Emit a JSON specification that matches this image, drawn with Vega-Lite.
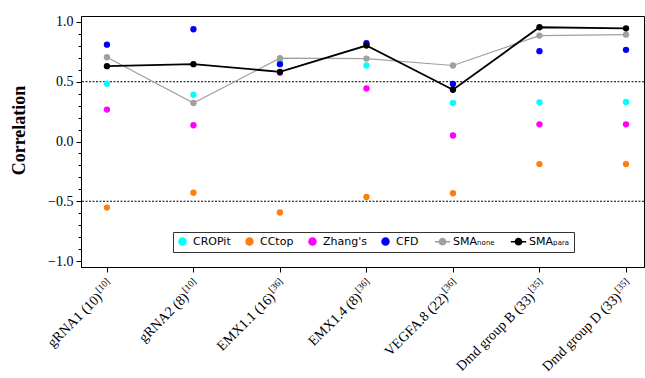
{
  "$schema": "https://vega.github.io/schema/vega-lite/v6.json",
  "width": 563,
  "height": 251,
  "autosize": "none",
  "padding": {"left": 81, "top": 16, "right": 1, "bottom": 111},
  "background": "white",
  "config": {
    "view": {"stroke": "black", "strokeWidth": 1},
    "axisX": {"labels": false, "tickSize": 5, "tickColor": "black", "domainColor": "black", "grid": false, "tickWidth": 1},
    "axisY": {"grid": false},
    "legend": {"orient": "none", "legendX": 92, "legendY": 216, "direction": "horizontal", "columns": 6, "title": null,
      "labelFont": "DejaVu Sans", "labelFontSize": 11, "labelColor": "black", "symbolSize": 49, "labelOffset": 5, "columnPadding": 12,
      "padding": 4, "strokeColor": "#333333", "cornerRadius": 0, "fillColor": "white", "symbolStrokeWidth": 1.5}
  },
  "datasets": {
    "scores": [
      {"target": "gRNA1 (10)", "method": "CROPit", "value": 0.483},
      {"target": "gRNA2 (8)", "method": "CROPit", "value": 0.392},
      {"target": "EMX1.1 (16)", "method": "CROPit", "value": 0.68},
      {"target": "EMX1.4 (8)", "method": "CROPit", "value": 0.636},
      {"target": "VEGFA.8 (22)", "method": "CROPit", "value": 0.322},
      {"target": "Dmd group B (33)", "method": "CROPit", "value": 0.328},
      {"target": "Dmd group D (33)", "method": "CROPit", "value": 0.331},
      {"target": "gRNA1 (10)", "method": "CCtop", "value": -0.553},
      {"target": "gRNA2 (8)", "method": "CCtop", "value": -0.428},
      {"target": "EMX1.1 (16)", "method": "CCtop", "value": -0.594},
      {"target": "EMX1.4 (8)", "method": "CCtop", "value": -0.464},
      {"target": "VEGFA.8 (22)", "method": "CCtop", "value": -0.433},
      {"target": "Dmd group B (33)", "method": "CCtop", "value": -0.189},
      {"target": "Dmd group D (33)", "method": "CCtop", "value": -0.189},
      {"target": "gRNA1 (10)", "method": "Zhang's", "value": 0.267},
      {"target": "gRNA2 (8)", "method": "Zhang's", "value": 0.136},
      {"target": "EMX1.1 (16)", "method": "Zhang's", "value": 0.575},
      {"target": "EMX1.4 (8)", "method": "Zhang's", "value": 0.444},
      {"target": "VEGFA.8 (22)", "method": "Zhang's", "value": 0.05},
      {"target": "Dmd group B (33)", "method": "Zhang's", "value": 0.144},
      {"target": "Dmd group D (33)", "method": "Zhang's", "value": 0.144},
      {"target": "gRNA1 (10)", "method": "CFD", "value": 0.81},
      {"target": "gRNA2 (8)", "method": "CFD", "value": 0.939},
      {"target": "EMX1.1 (16)", "method": "CFD", "value": 0.647},
      {"target": "EMX1.4 (8)", "method": "CFD", "value": 0.822},
      {"target": "VEGFA.8 (22)", "method": "CFD", "value": 0.481},
      {"target": "Dmd group B (33)", "method": "CFD", "value": 0.756},
      {"target": "Dmd group D (33)", "method": "CFD", "value": 0.767},
      {"target": "gRNA1 (10)", "method": "SMAₙₒₙₑ", "value": 0.705},
      {"target": "gRNA2 (8)", "method": "SMAₙₒₙₑ", "value": 0.322},
      {"target": "EMX1.1 (16)", "method": "SMAₙₒₙₑ", "value": 0.697},
      {"target": "EMX1.4 (8)", "method": "SMAₙₒₙₑ", "value": 0.694},
      {"target": "VEGFA.8 (22)", "method": "SMAₙₒₙₑ", "value": 0.636},
      {"target": "Dmd group B (33)", "method": "SMAₙₒₙₑ", "value": 0.886},
      {"target": "Dmd group D (33)", "method": "SMAₙₒₙₑ", "value": 0.894},
      {"target": "gRNA1 (10)", "method": "SMAₚₐᵣₐ", "value": 0.63},
      {"target": "gRNA2 (8)", "method": "SMAₚₐᵣₐ", "value": 0.647},
      {"target": "EMX1.1 (16)", "method": "SMAₚₐᵣₐ", "value": 0.583},
      {"target": "EMX1.4 (8)", "method": "SMAₚₐᵣₐ", "value": 0.803},
      {"target": "VEGFA.8 (22)", "method": "SMAₚₐᵣₐ", "value": 0.433},
      {"target": "Dmd group B (33)", "method": "SMAₚₐᵣₐ", "value": 0.956},
      {"target": "Dmd group D (33)", "method": "SMAₚₐᵣₐ", "value": 0.947}
    ],
    "labels": [
      {"target": "gRNA1 (10)", "sup": "[10]"},
      {"target": "gRNA2 (8)", "sup": "[10]"},
      {"target": "EMX1.1 (16)", "sup": "[36]"},
      {"target": "EMX1.4 (8)", "sup": "[36]"},
      {"target": "VEGFA.8 (22)", "sup": "[36]"},
      {"target": "Dmd group B (33)", "sup": "[35]"},
      {"target": "Dmd group D (33)", "sup": "[35]"}
    ],
    "refs": [{"y": 0.5}, {"y": -0.5}]
  },
  "resolve": {"axis": {"y": "independent"}},
  "layer": [
    {
      "data": {"name": "refs"},
      "mark": {"type": "rule", "color": "black", "strokeWidth": 1, "strokeDash": [2, 1.5]},
      "encoding": {
        "y": {"field": "y", "type": "quantitative",
          "scale": {"domain": [-1.05, 1.05], "nice": false, "zero": false},
          "axis": {"orient": "left", "values": [-1, -0.9, -0.8, -0.7, -0.6, -0.5, -0.4, -0.3, -0.2, -0.1, 0, 0.1, 0.2, 0.3, 0.4, 0.5, 0.6, 0.7, 0.8, 0.9, 1],
            "labels": false, "tickSize": 3, "tickColor": "black", "domain": false, "grid": false,
            "title": "Correlation", "titleFont": "Liberation Serif", "titleFontSize": 18, "titleFontWeight": "bold", "titleColor": "black",
            "titleX": -62, "titleY": 114, "titleBaseline": "middle", "titleAngle": -90, "titleAlign": "center", "titleLimit": 300}}
      }
    },
    {
      "data": {"name": "scores"},
      "transform": [{"filter": "indexof(['CROPit','CCtop','Zhang\\'s','CFD'], datum.method) >= 0"}],
      "mark": {"type": "point", "filled": true, "opacity": 1, "size": 40, "shape": "circle"},
      "encoding": {
        "x": {"field": "target", "type": "nominal", "title": null,
          "scale": {"type": "point", "domain": ["gRNA1 (10)", "gRNA2 (8)", "EMX1.1 (16)", "EMX1.4 (8)", "VEGFA.8 (22)", "Dmd group B (33)", "Dmd group D (33)"], "padding": 0.254, "align": 0.59}},
        "y": {"field": "value", "type": "quantitative",
          "axis": {"orient": "left", "values": [-1, -0.5, 0, 0.5, 1], "format": ".1f", "tickSize": 5, "tickColor": "black", "domainColor": "black",
            "labelFont": "Liberation Serif", "labelFontSize": 14, "labelColor": "black", "labelPadding": 3,
            "title": null, "grid": false}},
        "color": {"field": "method", "type": "nominal",
          "scale": {"domain": ["CROPit", "CCtop", "Zhang's", "CFD", "SMAₙₒₙₑ", "SMAₚₐᵣₐ"], "range": ["#00ffff", "#ff7f0e", "#ff00ff", "#0000ff", "#a0a0a0", "#000000"]},
          "legend": {
            "encode": {"symbols": {"update": {
              "shape": {"signal": "indexof(datum.label, 'SMA') === 0 ? 'M-2.2,0H2.2M0.9,0A0.9,0.9,0,1,1,-0.9,0A0.9,0.9,0,1,1,0.9,0Z' : 'circle'"},
              "fill": {"signal": "scale('color', datum.value)"},
              "stroke": {"signal": "scale('color', datum.value)"},
              "opacity": {"value": 1}
            }}}}}
      }
    },
    {
      "data": {"name": "scores"},
      "transform": [{"filter": "datum.method === 'SMAₙₒₙₑ'"}],
      "mark": {"type": "line", "strokeWidth": 1.2, "point": {"filled": true, "size": 40, "opacity": 1}},
      "encoding": {
        "x": {"field": "target", "type": "nominal", "title": null},
        "y": {"field": "value", "type": "quantitative", "axis": null},
        "color": {"field": "method", "type": "nominal", "legend": {
            "encode": {"symbols": {"update": {
              "shape": {"signal": "indexof(datum.label, 'SMA') === 0 ? 'M-2.2,0H2.2M0.9,0A0.9,0.9,0,1,1,-0.9,0A0.9,0.9,0,1,1,0.9,0Z' : 'circle'"},
              "fill": {"signal": "scale('color', datum.value)"},
              "stroke": {"signal": "scale('color', datum.value)"},
              "opacity": {"value": 1}
            }}}}}
      }
    },
    {
      "data": {"name": "scores"},
      "transform": [{"filter": "datum.method === 'SMAₚₐᵣₐ'"}],
      "mark": {"type": "line", "strokeWidth": 1.8, "point": {"filled": true, "size": 40, "opacity": 1}},
      "encoding": {
        "x": {"field": "target", "type": "nominal", "title": null},
        "y": {"field": "value", "type": "quantitative", "axis": null},
        "color": {"field": "method", "type": "nominal", "legend": {
            "encode": {"symbols": {"update": {
              "shape": {"signal": "indexof(datum.label, 'SMA') === 0 ? 'M-2.2,0H2.2M0.9,0A0.9,0.9,0,1,1,-0.9,0A0.9,0.9,0,1,1,0.9,0Z' : 'circle'"},
              "fill": {"signal": "scale('color', datum.value)"},
              "stroke": {"signal": "scale('color', datum.value)"},
              "opacity": {"value": 1}
            }}}}}
      }
    },
    {
      "data": {"name": "labels"},
      "mark": {"type": "text", "angle": 315, "align": "right", "baseline": "alphabetic", "dx": -25, "dy": 19, "font": "Liberation Serif", "fontSize": 14, "color": "black"},
      "encoding": {
        "x": {"field": "target", "type": "nominal", "title": null},
        "y": {"datum": -1.05, "axis": null},
        "text": {"field": "target"}
      }
    },
    {
      "data": {"name": "labels"},
      "mark": {"type": "text", "angle": 315, "align": "left", "baseline": "alphabetic", "dx": -24, "dy": 13, "font": "Liberation Serif", "fontSize": 9.5, "color": "black"},
      "encoding": {
        "x": {"field": "target", "type": "nominal", "title": null},
        "y": {"datum": -1.05, "axis": null},
        "text": {"field": "sup"}
      }
    }
  ]
}
